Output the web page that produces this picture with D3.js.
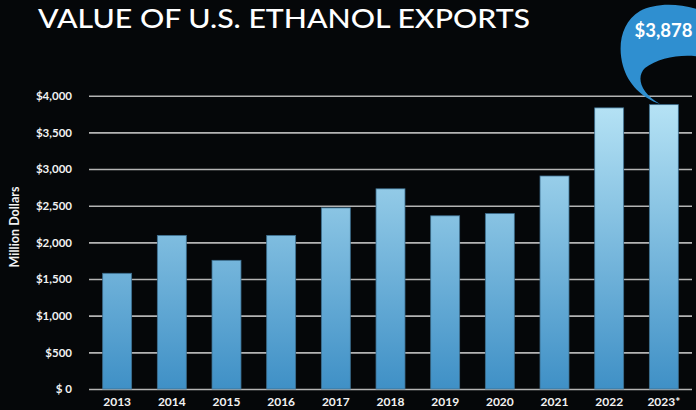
<!DOCTYPE html>
<html><head><meta charset="utf-8">
<script src="https://cdn.jsdelivr.net/npm/d3@7"></script>
<style>html,body{margin:0;padding:0;background:#050709;}svg{display:block;}</style>
</head><body>
<div id="chart"></div>
<script>
const years = ["2013","2014","2015","2016","2017","2018","2019","2020","2021","2022","2023*"];
const values = [1578, 2095, 1755, 2095, 2470, 2730, 2362, 2392, 2905, 3834, 3878];
const yTicks = [0, 500, 1000, 1500, 2000, 2500, 3000, 3500, 4000];
const yTickLabels = ["$ 0", "$500", "$1,000", "$1,500", "$2,000", "$2,500", "$3,000", "$3,500", "$4,000"];
const titleText = "VALUE OF U.S. ETHANOL EXPORTS";
const yTitle = "Million Dollars";
const callout = "$3,878";

const W = 696, H = 410;
const svg = d3.select("#chart").append("svg").attr("width", W).attr("height", H);
svg.append("rect").attr("width", W).attr("height", H).attr("fill", "#050709");

const x = d3.scaleBand().domain(years).range([89, 692]).paddingInner(0.47).paddingOuter(0.25);
const y = d3.scaleLinear().domain([0, 4000]).range([389, 95.7]);

const defs = svg.append("defs");
const grad = defs.append("linearGradient").attr("id", "barGrad")
  .attr("gradientUnits", "userSpaceOnUse").attr("x1", 0).attr("x2", 0)
  .attr("y1", y(3900)).attr("y2", y(0));
grad.append("stop").attr("offset", "0%").attr("stop-color", "#b6e3f5");
grad.append("stop").attr("offset", "100%").attr("stop-color", "#3f90c6");

// gridlines via axis
const yAxis = d3.axisLeft(y).tickValues(yTicks).tickSize(-(692 - 89)).tickFormat((d, i) => yTickLabels[i]);
const gy = svg.append("g").attr("transform", "translate(89,0)").call(yAxis);
gy.select(".domain").remove();
gy.selectAll(".tick line").attr("stroke", "#b4b4b4").attr("stroke-width", 1.6);
gy.selectAll(".tick text").attr("x", -17).attr("fill", "#f2f2f2")
  .style("font-family", "Lato, sans-serif").style("font-size", "11.5px").style("font-weight", "700");

// bars
svg.append("g").selectAll("rect").data(values).join("rect")
  .attr("x", (d, i) => x(years[i]))
  .attr("width", x.bandwidth())
  .attr("y", d => y(d))
  .attr("height", d => y(0) - y(d))
  .attr("fill", "url(#barGrad)")
  .attr("stroke", "#3d6f8f").attr("stroke-width", 0.8);

// x axis labels
const xAxis = d3.axisBottom(x).tickSize(0).tickPadding(0);
const gx = svg.append("g").attr("transform", "translate(0,389)").call(xAxis);
gx.select(".domain").remove();
gx.selectAll(".tick text").attr("y", 17).attr("dy", 0).attr("fill", "#f2f2f2")
  .style("font-family", "Lato, sans-serif").style("font-size", "12px").style("font-weight", "700");

// title
svg.append("text").attr("x", 38).attr("y", 28).text(titleText)
  .attr("fill", "#ffffff").style("font-family", "Lato, sans-serif").style("font-size", "27px")
  .style("font-weight", "500")
  .attr("textLength", 492).attr("lengthAdjust", "spacingAndGlyphs");

// y title
svg.append("text").attr("transform", "translate(19,227) rotate(-90)").attr("text-anchor", "middle")
  .text(yTitle).attr("fill", "#f2f2f2").style("font-family", "Lato, sans-serif")
  .style("font-size", "12.5px").style("font-weight", "700");

// callout bubble
svg.append("path")
  .attr("d", "M660,104 C642,98 628,84 623,66 C617,44 622,22 640,11 C655,3 680,2 706,12 L706,58 C688,53 660,56 645,68 C636,77 640,92 660,104 Z")
  .attr("fill", "#2f8fd0");
svg.append("text").attr("x", 663.5).attr("y", 37).attr("text-anchor", "middle").text(callout)
  .attr("fill", "#ffffff").style("font-family", "Lato, sans-serif").style("font-size", "18.5px").style("font-weight", "700");
</script>
</body></html>
